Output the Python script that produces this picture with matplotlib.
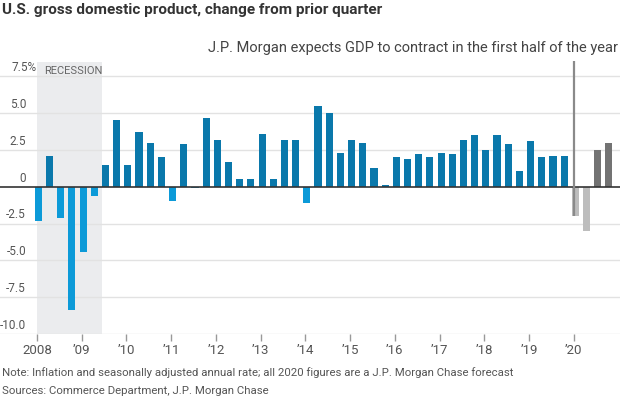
import matplotlib
matplotlib.use("Agg")
import matplotlib.pyplot as plt

plt.rcParams['font.family'] = ['Roboto', 'DejaVu Sans']

# ---- data ----
years = [2008, 2009, 2010, 2011, 2012, 2013, 2014, 2015, 2016, 2017, 2018, 2019, 2020]
quarters = [f"{y}Q{q}" for y in years for q in range(1, 5)]
gdp = [-2.3, 2.1, -2.1, -8.4,
       -4.4, -0.6, 1.5, 4.5,
       1.5, 3.7, 3.0, 2.0,
       -1.0, 2.9, -0.1, 4.7,
       3.2, 1.7, 0.5, 0.5,
       3.6, 0.5, 3.2, 3.2,
       -1.1, 5.5, 5.0, 2.3,
       3.2, 3.0, 1.3, 0.1,
       2.0, 1.9, 2.2, 2.0,
       2.3, 2.2, 3.2, 3.5,
       2.5, 3.5, 2.9, 1.1,
       3.1, 2.0, 2.1, 2.1,
       -2.0, -3.0, 2.5, 3.0]
forecast = [q.startswith('2020') for q in quarters]
tick_labels = ['2008', "’09", "’10", "’11", "’12", "’13", "’14", "’15", "’16", "’17", "’18", "’19", "’20"]
y_ticks = [7.5, 5.0, 2.5, 0, -2.5, -5.0, -7.5, -10.0]
y_tick_labels = ['7.5%', '5.0', '2.5', '0', '-2.5', '-5.0', '-7.5', '-10.0']
recession = (2008.0, 2009.45)

# ---- figure ----
fig = plt.figure(figsize=(6.2, 4.0), dpi=100)
ax = fig.add_axes([0, 66/400, 1, 272/400])
ax.set_xlim(2008 - 37/44.75, 2021.028)
ax.set_ylim(-10, 8.47)
for s in ax.spines.values():
    s.set_visible(False)

POS, NEG = '#0a78ab', '#0c9ad8'
FPOS, FNEG = '#737373', '#bdbdbd'

xs = [int(q[:4]) + (int(q[-1]) - 1) * 0.25 + 0.03 for q in quarters]
colors = []
for v, f in zip(gdp, forecast):
    if f:
        colors.append(FPOS if v >= 0 else FNEG)
    else:
        colors.append(POS if v >= 0 else NEG)
ax.bar(xs, gdp, width=0.16, color=colors, zorder=2, linewidth=0)

# recession shading
ax.axvspan(*recession, color='#ebecee', zorder=0, lw=0)
ax.text(recession[0] + 0.17, 8.47 - 0.25, 'RECESSION', fontsize=8, color='#666666',
        ha='left', va='top', zorder=3)

# gridlines
for t in y_ticks:
    if t == 0:
        continue
    ax.axhline(t, color='#e2e2e2', lw=1.0, zorder=0.5)
ax.axhline(0, color='#333333', lw=1.2, zorder=3)

# y labels
for t, lab in zip(y_ticks, y_tick_labels):
    if lab.endswith('%'):
        ax.annotate(lab, xy=(12/620, t), xycoords=('axes fraction', 'data'),
                    xytext=(0, 1.5), textcoords='offset points',
                    ha='left', va='bottom', fontsize=8.5, color='#555555')
    else:
        ax.annotate(lab, xy=(26/620, t), xycoords=('axes fraction', 'data'),
                    xytext=(0, 1.5), textcoords='offset points',
                    ha='right', va='bottom', fontsize=8.5, color='#555555')

# x ticks
ax.set_yticks([])
ax.set_xticks(years)
ax.set_xticklabels(tick_labels, fontsize=9.5, color='#555555')
ax.tick_params(axis='x', length=5, width=1, color='#999999', pad=2)

# forecast divider
ax.plot([2020.0, 2020.0], [8.53, -2.0], color='#8a8a8a', lw=1.6, zorder=4,
        clip_on=False, solid_capstyle='butt')

# texts
fig.text(2/620, 1 - 10/400, 'U.S. gross domestic product, change from prior quarter',
         fontsize=11, fontweight='bold', color='#333333', ha='left', va='center')
fig.text(618/620, 1 - 48/400, 'J.P. Morgan expects GDP to contract in the first half of the year',
         fontsize=10.5, color='#444444', ha='right', va='center')
fig.text(2/620, 1 - 373/400,
         'Note: Inflation and seasonally adjusted annual rate; all 2020 figures are a J.P. Morgan Chase forecast',
         fontsize=8.2, color='#555555', ha='left', va='center')
fig.text(2/620, 1 - 391/400, 'Sources: Commerce Department, J.P. Morgan Chase',
         fontsize=8.2, color='#555555', ha='left', va='center')

fig.savefig('out.png', dpi=100)
